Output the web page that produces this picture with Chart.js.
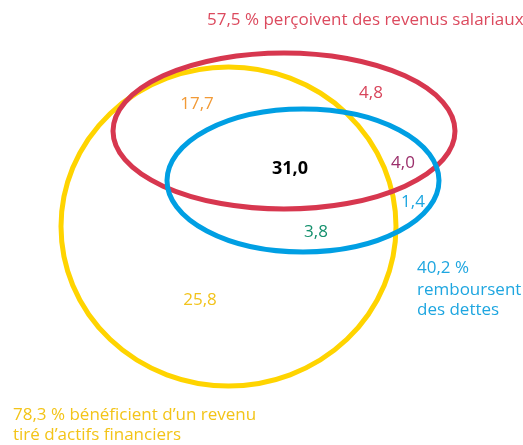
<!DOCTYPE html>
<html><head><meta charset="utf-8">
<script src="https://cdn.jsdelivr.net/npm/chart.js@4.4.1/dist/chart.umd.min.js"></script>
<style>html,body{margin:0;padding:0;background:#fff;}canvas{display:block;}</style>
</head><body>
<canvas id="c" width="523" height="445"></canvas>
<script>
// Data
const setNames = ['perçoivent des revenus salariaux', 'remboursent des dettes', "bénéficient d’un revenu tiré d’actifs financiers"];
const setShares = ['57,5 %', '40,2 %', '78,3 %'];
const regionNames = ['salaires + actifs', 'salaires seuls', 'les trois', 'salaires + dettes', 'dettes seules', 'dettes + actifs', 'actifs seuls'];
const regionValues = [17.7, 4.8, 31.0, 4.0, 1.4, 3.8, 25.8];

// Geometry (chart units)
const ellipses = [
  {cx: 228.5, cy: 226.5, rx: 167.5, ry: 159.5, color: '#ffd400'},
  {cx: 284, cy: 131, rx: 171, ry: 78, color: '#d7374f'},
  {cx: 303, cy: 180.5, rx: 136, ry: 71.5, color: '#009fe3'}
];
const regionPos = [[197,104],[371,93],[290,169],[403,163],[413,202],[316,232],[200,300]];
const regionColors = ['#f29a36','#d8455b','#000000','#9b2f6b','#1ea6e0','#14906d','#f2c31c'];

const fmt = v => v.toFixed(1).replace('.', ',');

const vennPlugin = {
  id: 'venn',
  afterDatasetsDraw(chart) {
    const {ctx, scales: {x, y}} = chart;
    ctx.save();
    ellipses.forEach(e => {
      const px = x.getPixelForValue(e.cx), py = y.getPixelForValue(e.cy);
      const rx = Math.abs(x.getPixelForValue(e.cx + e.rx) - px);
      const ry = Math.abs(y.getPixelForValue(e.cy + e.ry) - py);
      ctx.beginPath();
      ctx.ellipse(px, py, rx, ry, 0, 0, Math.PI * 2);
      ctx.lineWidth = 5;
      ctx.strokeStyle = e.color;
      ctx.stroke();
    });
    ctx.textAlign = 'center';
    ctx.textBaseline = 'middle';
    regionValues.forEach((v, i) => {
      const [vx, vy] = regionPos[i];
      ctx.font = (i === 2 ? 'bold 18px' : '17px') + ' "Open Sans", sans-serif';
      ctx.fillStyle = regionColors[i];
      ctx.fillText(fmt(v), x.getPixelForValue(vx), y.getPixelForValue(vy));
    });
    ctx.textAlign = 'left';
    ctx.font = '17px "Open Sans", sans-serif';
    // Set labels
    ctx.fillStyle = '#dc4a5e';
    ctx.fillText(setShares[0] + ' ' + setNames[0], x.getPixelForValue(207), y.getPixelForValue(20));
    ctx.fillStyle = '#1ea6e0';
    ctx.fillText(setShares[1], x.getPixelForValue(417), y.getPixelForValue(268));
    ctx.fillText('remboursent', x.getPixelForValue(417), y.getPixelForValue(290));
    ctx.fillText('des dettes', x.getPixelForValue(417), y.getPixelForValue(310));
    ctx.fillStyle = '#f3c418';
    ctx.fillText(setShares[2] + ' bénéficient d’un revenu', x.getPixelForValue(13), y.getPixelForValue(415));
    ctx.fillText('tiré d’actifs financiers', x.getPixelForValue(13), y.getPixelForValue(435));
    ctx.restore();
  }
};

new Chart(document.getElementById('c'), {
  type: 'scatter',
  data: {datasets: [{data: regionValues.map((v, i) => ({x: regionPos[i][0], y: regionPos[i][1]})), pointRadius: 0}]},
  options: {
    responsive: false,
    animation: false,
    layout: {padding: 0},
    plugins: {legend: {display: false}, tooltip: {enabled: false}},
    scales: {
      x: {type: 'linear', min: 0, max: 523, display: false},
      y: {type: 'linear', min: 0, max: 445, reverse: true, display: false}
    }
  },
  plugins: [vennPlugin]
});
</script>
</body></html>
